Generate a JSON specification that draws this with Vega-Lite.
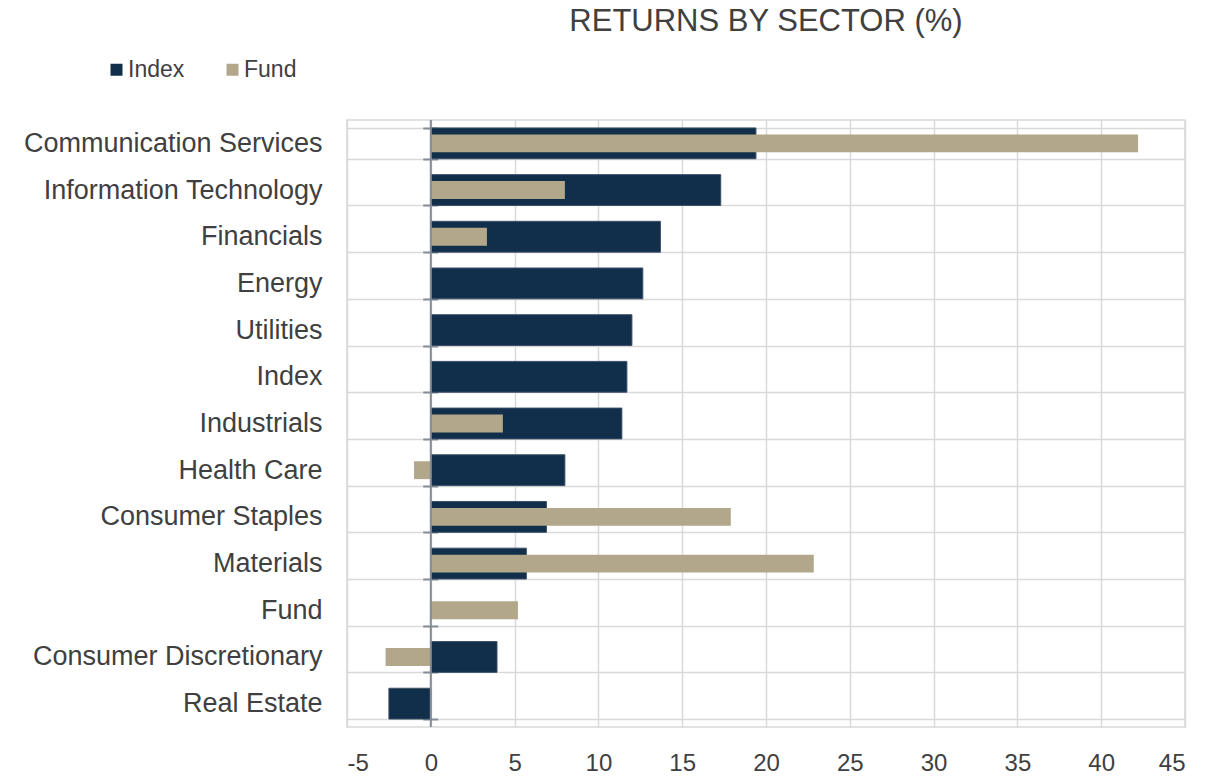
{
  "$schema": "https://vega.github.io/schema/vega-lite/v6.json",
  "width": 838,
  "height": 607,
  "autosize": {"type": "none"},
  "padding": {"left": 347, "top": 120, "right": 22, "bottom": 50},
  "background": "white",
  "config": {"view": {"stroke": "#d9d9d9", "strokeWidth": 1.5}},
  "title": {"text": "RETURNS BY SECTOR (%)", "font": "Liberation Sans", "fontSize": 31, "fontWeight": "normal", "color": "#404040", "anchor": "middle", "baseline": "alphabetic", "offset": -4},
  "data": {"values": [
    {"sector": "Communication Services", "series": "Index", "value": 19.4},
    {"sector": "Communication Services", "series": "Fund", "value": 42.2},
    {"sector": "Information Technology", "series": "Index", "value": 17.3},
    {"sector": "Information Technology", "series": "Fund", "value": 8.0},
    {"sector": "Financials", "series": "Index", "value": 13.7},
    {"sector": "Financials", "series": "Fund", "value": 3.35},
    {"sector": "Energy", "series": "Index", "value": 12.65},
    {"sector": "Utilities", "series": "Index", "value": 12.0},
    {"sector": "Index", "series": "Index", "value": 11.7},
    {"sector": "Industrials", "series": "Index", "value": 11.4},
    {"sector": "Industrials", "series": "Fund", "value": 4.3},
    {"sector": "Health Care", "series": "Index", "value": 8.0},
    {"sector": "Health Care", "series": "Fund", "value": -1.0},
    {"sector": "Consumer Staples", "series": "Index", "value": 6.9},
    {"sector": "Consumer Staples", "series": "Fund", "value": 17.9},
    {"sector": "Materials", "series": "Index", "value": 5.7},
    {"sector": "Materials", "series": "Fund", "value": 22.85},
    {"sector": "Fund", "series": "Fund", "value": 5.2},
    {"sector": "Consumer Discretionary", "series": "Index", "value": 3.95},
    {"sector": "Consumer Discretionary", "series": "Fund", "value": -2.7},
    {"sector": "Real Estate", "series": "Index", "value": -2.5}
  ]},
  "layer": [
    {
      "transform": [{"filter": "datum.series === 'Index'"}],
      "mark": {"type": "bar", "stroke": "#3d5068", "strokeWidth": 1},
      "encoding": {
        "y": {
          "field": "sector", "type": "nominal",
          "sort": ["Communication Services", "Information Technology", "Financials", "Energy", "Utilities", "Index", "Industrials", "Health Care", "Consumer Staples", "Materials", "Fund", "Consumer Discretionary", "Real Estate"],
          "scale": {"paddingInner": 0.34, "paddingOuter": 0.17},
          "axis": {"title": null, "offset": -75.7, "domain": false, "ticks": true, "tickBand": "extent", "tickSize": -15, "tickColor": "#868c96", "tickWidth": 2, "grid": true, "gridColor": "#d9d9d9", "gridWidth": 1.5, "labelFont": "Liberation Sans", "labelFontSize": 27, "labelColor": "#404040", "labelPadding": 115.7, "labelLimit": 0}
        },
        "x": {
          "field": "value", "type": "quantitative",
          "scale": {"domain": [-5, 45], "nice": false},
          "axis": {"title": null, "values": [-5, 0, 5, 10, 15, 20, 25, 30, 35, 40, 45], "labelExpr": "'' + datum.value", "domain": false, "ticks": false, "grid": true, "gridColor": "#d9d9d9", "gridWidth": 1.5, "labelFont": "Liberation Sans", "labelFontSize": 24, "labelColor": "#404040", "labelPadding": 24}
        },
        "color": {
          "field": "series", "type": "nominal",
          "scale": {"domain": ["Index", "Fund"], "range": ["#112e4a", "#b2a78a"]},
          "legend": {"title": null, "orient": "none", "legendX": -242, "legendY": -62, "direction": "horizontal", "symbolType": "square", "symbolSize": 144, "symbolStrokeWidth": 0, "labelFont": "Liberation Sans", "labelFontSize": 23, "labelColor": "#404040", "columnPadding": 36, "labelOffset": 0, "padding": 0}
        }
      }
    },
    {
      "transform": [{"filter": "datum.series === 'Fund'"}],
      "mark": {"type": "bar", "height": {"band": 0.58}},
      "encoding": {
        "y": {
          "field": "sector", "type": "nominal",
          "sort": ["Communication Services", "Information Technology", "Financials", "Energy", "Utilities", "Index", "Industrials", "Health Care", "Consumer Staples", "Materials", "Fund", "Consumer Discretionary", "Real Estate"]
        },
        "x": {"field": "value", "type": "quantitative"},
        "color": {"field": "series", "type": "nominal"}
      }
    },
    {
      "data": {"values": [{}]},
      "mark": {"type": "rule", "color": "#868c96", "strokeWidth": 2},
      "encoding": {"x": {"datum": 0}}
    }
  ]
}
